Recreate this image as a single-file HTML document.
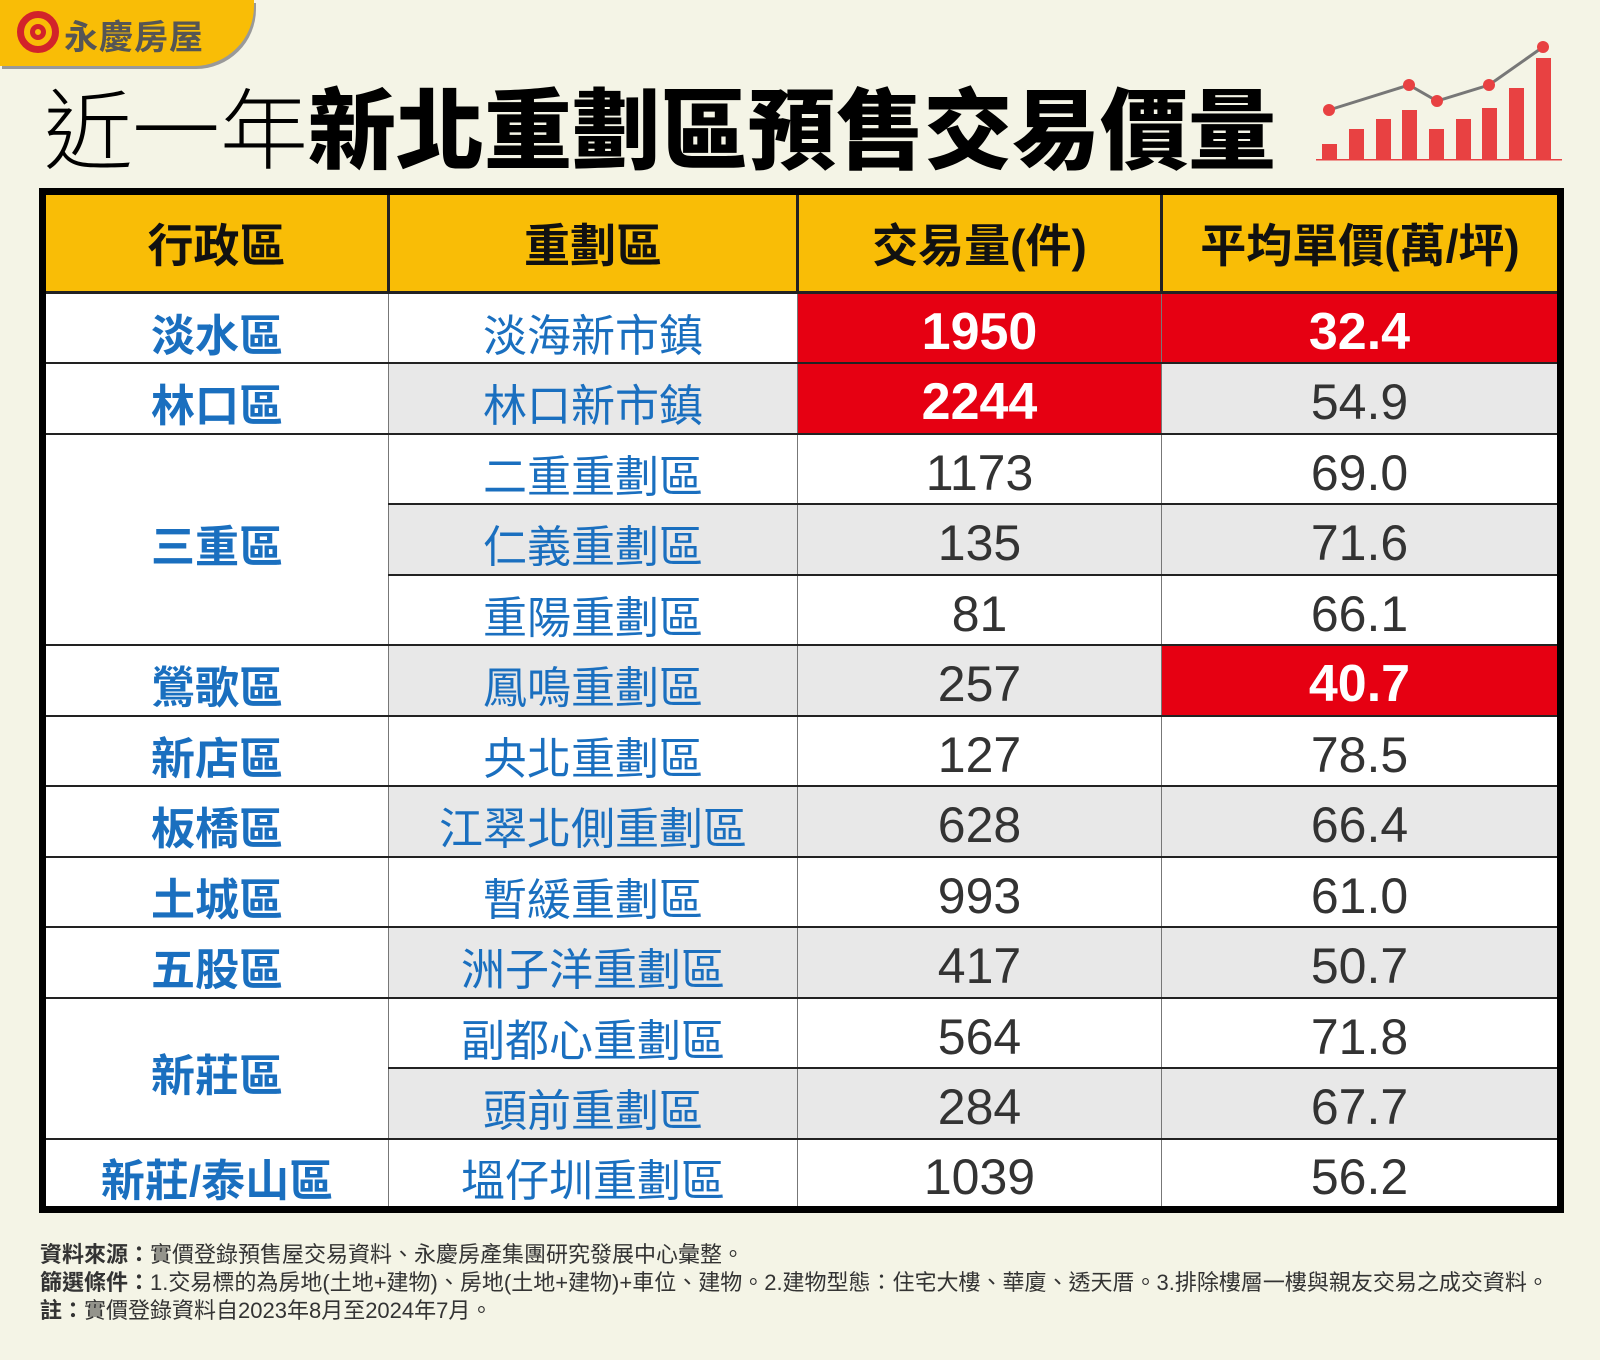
<!DOCTYPE html>
<html><head><meta charset="utf-8"><style>
*{margin:0;padding:0;box-sizing:border-box}
body{width:1600px;height:1360px;background:#f4f4e6;position:relative;overflow:hidden;font-family:"Liberation Sans","Noto Sans CJK TC",sans-serif}
.logo{position:absolute;left:0;top:0;width:254px;height:66px;background:#f9bd06;border-bottom-right-radius:60px;box-shadow:2px 3px 0 #999}
.logo .t{position:absolute;left:64px;top:10px;font-size:34px;font-weight:bold;color:#555;letter-spacing:1px}
.logo .c{position:absolute;left:17px;top:11px;width:42px;height:42px;border:7px solid #d2232a;border-radius:50%}
.logo .c2{position:absolute;left:30px;top:24px;width:16px;height:16px;border:5px solid #d2232a;border-radius:50%}
.title{position:absolute;left:44px;top:80px;font-size:88px;line-height:104px;white-space:nowrap;color:#000}
.title .l{font-weight:300}
.title b{font-weight:900}
table{position:absolute;left:39px;top:188px;width:1525px;border-collapse:collapse;border:7px solid #000;table-layout:fixed}
td,th{text-align:center;height:70.5px;border-top:2px solid #222;border-left:1px solid #777;padding:0;background:#fff}
td span{position:relative;top:4px}
th{height:101px;background:#f9bd06;font-size:46px;font-weight:bold;color:#111;border-left:3px solid #222;border-bottom:3px solid #222}
td.d{color:#1a6fbf;font-weight:bold;font-size:44px;background:#fff}
td.s{color:#1a6fbf;font-size:44px}
td.n{color:#333;font-size:50px}
tr.g td{background:#e8e8e8}
tr.g td.d{background:#fff}
td.r{background:#e60012!important;color:#fff;font-weight:bold;font-size:52px}
.foot{position:absolute;left:40px;top:1241px;font-size:22px;line-height:28px;color:#333;white-space:nowrap}
.foot b{font-weight:bold}
</style></head><body>
<div class="logo"><div class="c"></div><div class="c2"></div><div class="t">永慶房屋</div></div>
<div class="title"><span class="l">近一年</span><b>新北重劃區預售交易價量</b></div>
<svg style="position:absolute;left:1310px;top:35px" width="260" height="130" viewBox="1310 35 260 130">
<g fill="#e84142">
<rect x="1322" y="144" width="15" height="16"/><rect x="1349" y="129" width="15" height="31"/><rect x="1376" y="119" width="15" height="41"/><rect x="1402" y="110" width="15" height="50"/><rect x="1429" y="129" width="15" height="31"/><rect x="1456" y="119" width="15" height="41"/><rect x="1482" y="108" width="15" height="52"/><rect x="1509" y="88" width="15" height="72"/><rect x="1536" y="58" width="15" height="102"/>
<rect x="1316" y="159" width="246" height="1.5"/></g>
<polyline points="1329,110 1409,85 1437,101 1489,85 1543,47" fill="none" stroke="#777" stroke-width="3"/>
<g fill="#e84142"><circle cx="1329" cy="110" r="6"/><circle cx="1409" cy="85" r="6"/><circle cx="1437" cy="101" r="6"/><circle cx="1489" cy="85" r="6"/><circle cx="1543" cy="47" r="6"/></g>
</svg>
<table>
<colgroup><col style="width:346px"><col style="width:409px"><col style="width:364px"><col></colgroup>
<tr><th style="border-left:none">行政區</th><th>重劃區</th><th>交易量(件)</th><th>平均單價(萬/坪)</th></tr>
<tr><td class="d"><span>淡水區</span></td><td class="s"><span>淡海新市鎮</span></td><td class="n r"><span>1950</span></td><td class="n r"><span>32.4</span></td></tr>
<tr class="g"><td class="d"><span>林口區</span></td><td class="s"><span>林口新市鎮</span></td><td class="n r"><span>2244</span></td><td class="n"><span>54.9</span></td></tr>
<tr><td class="d" rowspan="3"><span>三重區</span></td><td class="s"><span>二重重劃區</span></td><td class="n"><span>1173</span></td><td class="n"><span>69.0</span></td></tr>
<tr class="g"><td class="s"><span>仁義重劃區</span></td><td class="n"><span>135</span></td><td class="n"><span>71.6</span></td></tr>
<tr><td class="s"><span>重陽重劃區</span></td><td class="n"><span>81</span></td><td class="n"><span>66.1</span></td></tr>
<tr class="g"><td class="d"><span>鶯歌區</span></td><td class="s"><span>鳳鳴重劃區</span></td><td class="n"><span>257</span></td><td class="n r"><span>40.7</span></td></tr>
<tr><td class="d"><span>新店區</span></td><td class="s"><span>央北重劃區</span></td><td class="n"><span>127</span></td><td class="n"><span>78.5</span></td></tr>
<tr class="g"><td class="d"><span>板橋區</span></td><td class="s"><span>江翠北側重劃區</span></td><td class="n"><span>628</span></td><td class="n"><span>66.4</span></td></tr>
<tr><td class="d"><span>土城區</span></td><td class="s"><span>暫緩重劃區</span></td><td class="n"><span>993</span></td><td class="n"><span>61.0</span></td></tr>
<tr class="g"><td class="d"><span>五股區</span></td><td class="s"><span>洲子洋重劃區</span></td><td class="n"><span>417</span></td><td class="n"><span>50.7</span></td></tr>
<tr><td class="d" rowspan="2"><span>新莊區</span></td><td class="s"><span>副都心重劃區</span></td><td class="n"><span>564</span></td><td class="n"><span>71.8</span></td></tr>
<tr class="g"><td class="s"><span>頭前重劃區</span></td><td class="n"><span>284</span></td><td class="n"><span>67.7</span></td></tr>
<tr><td class="d"><span>新莊/泰山區</span></td><td class="s"><span>塭仔圳重劃區</span></td><td class="n"><span>1039</span></td><td class="n"><span>56.2</span></td></tr>
</table>
<div class="foot">
<div><b>資料來源：</b>實價登錄預售屋交易資料、永慶房產集團研究發展中心彙整。</div>
<div><b>篩選條件：</b>1.交易標的為房地(土地+建物)、房地(土地+建物)+車位、建物。2.建物型態：住宅大樓、華廈、透天厝。3.排除樓層一樓與親友交易之成交資料。</div>
<div><b>註：</b>實價登錄資料自2023年8月至2024年7月。</div>
</div>
</body></html>
